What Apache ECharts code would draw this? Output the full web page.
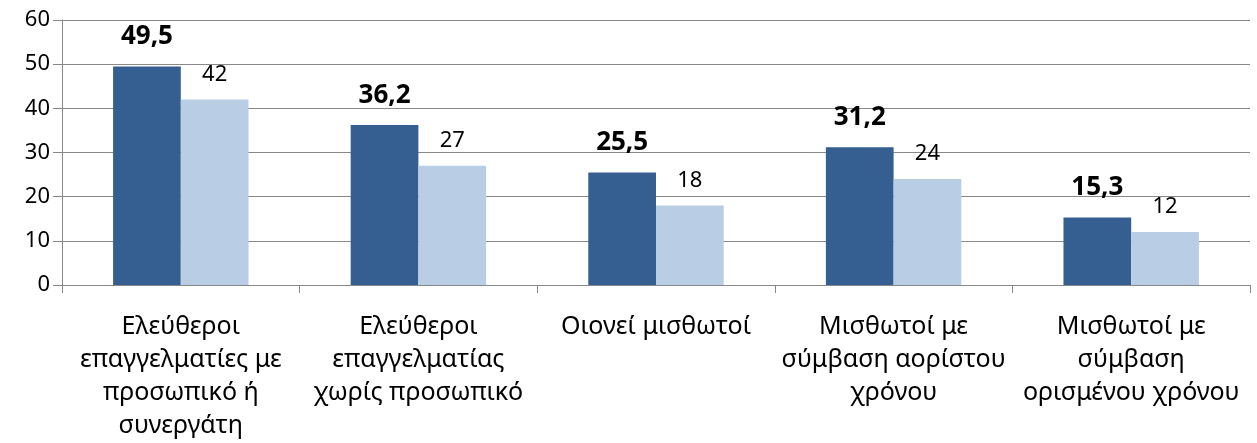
<!DOCTYPE html>
<html>
<head>
<meta charset="utf-8">
<script src="https://cdn.jsdelivr.net/npm/echarts@6/dist/echarts.min.js"></script>
<style>
  html, body { margin: 0; padding: 0; background: #fff; }
  #chart { width: 1257px; height: 443px; }
</style>
</head>
<body>
<div id="chart"></div>
<script>
const categories = [
    'Ελεύθεροι\nεπαγγελματίες με\nπροσωπικό ή\nσυνεργάτη',
    'Ελεύθεροι\nεπαγγελματίας\nχωρίς προσωπικό',
    'Οιονεί μισθωτοί',
    'Μισθωτοί με\nσύμβαση αορίστου\nχρόνου',
    'Μισθωτοί με\nσύμβαση\nορισμένου χρόνου'
];
const darkValues = [49.5, 36.2, 25.5, 31.2, 15.3];
const lightValues = [42, 27, 18, 24, 12];

const font = '"Noto Sans", "DejaVu Sans", sans-serif';

const fmtComma = p => String(p.value).replace('.', ',');

function getOption() {
    return {
        animation: false,
        grid: { left: 62, right: 7, top: 20, bottom: 158 },
        xAxis: {
            type: 'category',
            data: categories,
            axisLine: { lineStyle: { color: '#888', width: 1 } },
            axisTick: { show: true, length: 8, lineStyle: { color: '#888' } },
            axisLabel: {
                interval: 0,
                margin: 25,
                color: '#000',
                fontFamily: font,
                fontSize: 25,
                lineHeight: 33
            }
        },
        yAxis: {
            type: 'value',
            min: 0,
            max: 60,
            interval: 10,
            axisLine: { show: true, lineStyle: { color: '#888' } },
            axisTick: { show: true, length: 9, lineStyle: { color: '#888' } },
            splitLine: { lineStyle: { color: '#888', width: 1 } },
            axisLabel: {
                color: '#000',
                fontFamily: font,
                fontSize: 22,
                margin: 12
            }
        },
        series: [
            {
                name: 'dark',
                type: 'bar',
                data: darkValues,
                barGap: '0%',
                barCategoryGap: '43%',
                itemStyle: { color: '#355F91' },
                label: {
                    show: true,
                    position: 'top',
                    distance: 17,
                    color: '#000',
                    fontFamily: font,
                    fontWeight: 'bold',
                    fontSize: 26,
                    formatter: fmtComma
                }
            },
            {
                name: 'light',
                type: 'bar',
                data: lightValues,
                itemStyle: { color: '#B9CDE5' },
                label: {
                    show: true,
                    position: 'top',
                    distance: 14,
                    color: '#000',
                    fontFamily: font,
                    fontSize: 22,
                    formatter: fmtComma
                }
            }
        ]
    };
}

const myChart = echarts.init(document.getElementById('chart'));
myChart.setOption(getOption());
</script>
</body>
</html>
